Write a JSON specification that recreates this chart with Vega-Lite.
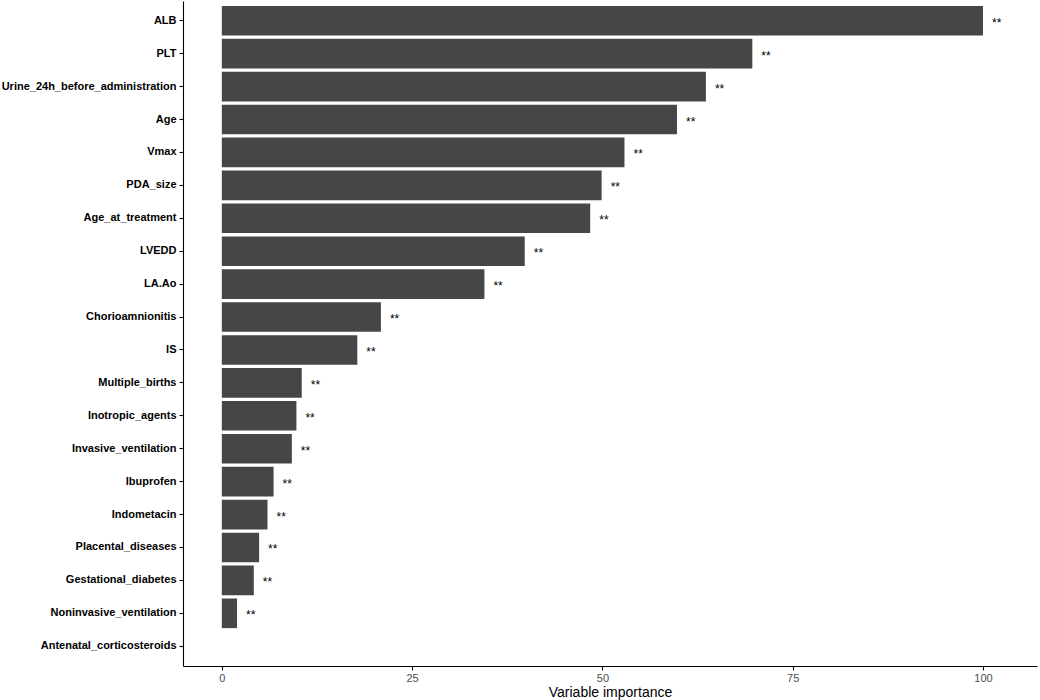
{
  "$schema": "https://vega.github.io/schema/vega-lite/v6.json",
  "width": 854,
  "height": 665,
  "padding": {"left": 183, "top": 1, "right": 3, "bottom": 34},
  "autosize": {"type": "none"},
  "background": "white",
  "data": {"values": [
    {"var": "ALB", "imp": 100, "sig": "**"},
    {"var": "PLT", "imp": 69.7, "sig": "**"},
    {"var": "Urine_24h_before_administration", "imp": 63.6, "sig": "**"},
    {"var": "Age", "imp": 59.8, "sig": "**"},
    {"var": "Vmax", "imp": 52.9, "sig": "**"},
    {"var": "PDA_size", "imp": 49.9, "sig": "**"},
    {"var": "Age_at_treatment", "imp": 48.4, "sig": "**"},
    {"var": "LVEDD", "imp": 39.8, "sig": "**"},
    {"var": "LA.Ao", "imp": 34.5, "sig": "**"},
    {"var": "Chorioamnionitis", "imp": 20.9, "sig": "**"},
    {"var": "IS", "imp": 17.8, "sig": "**"},
    {"var": "Multiple_births", "imp": 10.5, "sig": "**"},
    {"var": "Inotropic_agents", "imp": 9.8, "sig": "**"},
    {"var": "Invasive_ventilation", "imp": 9.2, "sig": "**"},
    {"var": "Ibuprofen", "imp": 6.8, "sig": "**"},
    {"var": "Indometacin", "imp": 6.0, "sig": "**"},
    {"var": "Placental_diseases", "imp": 4.9, "sig": "**"},
    {"var": "Gestational_diabetes", "imp": 4.2, "sig": "**"},
    {"var": "Noninvasive_ventilation", "imp": 2.0, "sig": "**"},
    {"var": "Antenatal_corticosteroids", "imp": 0, "sig": ""}
  ]},
  "encoding": {
    "y": {
      "field": "var", "type": "nominal", "sort": null,
      "scale": {"paddingInner": 0.1, "paddingOuter": 0.15},
      "axis": {
        "title": null,
        "labelFont": "Liberation Sans", "labelFontWeight": "bold", "labelFontSize": 11,
        "labelColor": "black", "labelPadding": 3,
        "tickSize": 4, "tickColor": "black", "domainColor": "black", "domainWidth": 1.1, "tickWidth": 1.1
      }
    },
    "x": {
      "field": "imp", "type": "quantitative",
      "scale": {"domain": [-5.1, 107.1], "nice": false, "zero": false},
      "axis": {
        "title": "Variable importance", "values": [0, 25, 50, 75, 100], "grid": false,
        "labelFont": "Liberation Sans", "labelFontSize": 11, "labelColor": "#4D4D4D", "labelPadding": 2,
        "titleFont": "Liberation Sans", "titleFontSize": 14, "titleFontWeight": "normal", "titleColor": "black", "titlePadding": 2,
        "tickSize": 4, "tickColor": "black", "domainColor": "black", "domainWidth": 1.1, "tickWidth": 1.1
      }
    }
  },
  "layer": [
    {"mark": {"type": "bar", "color": "#464646"}},
    {"mark": {"type": "text", "align": "left", "baseline": "middle", "dx": 9, "dy": 2, "font": "Liberation Sans", "fontSize": 12, "color": "black"},
     "encoding": {"text": {"field": "sig"}}}
  ],
  "config": {"view": {"stroke": null}}
}
